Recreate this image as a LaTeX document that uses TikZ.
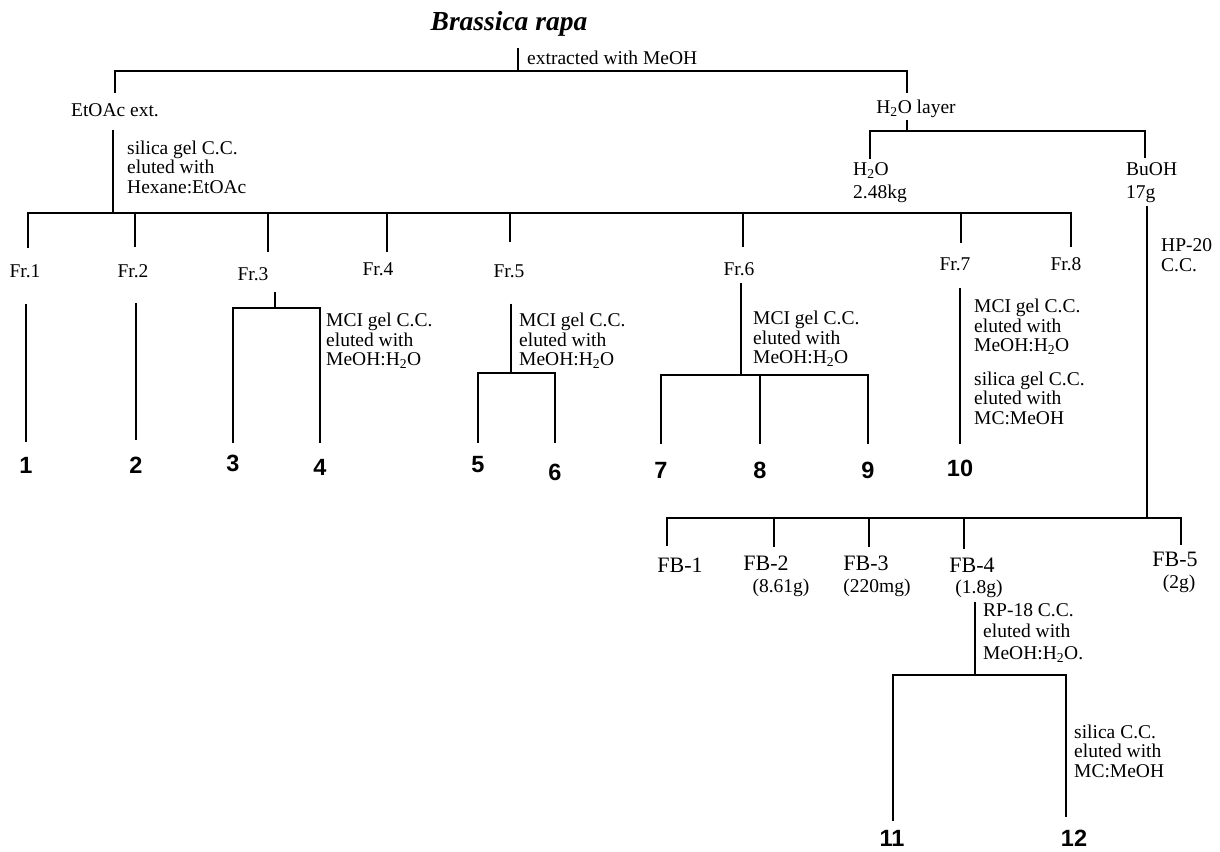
\documentclass[tikz,border=0pt]{standalone}
\usepackage{fontspec}
\setmainfont{Liberation Serif}
\newfontfamily\arialfam{Liberation Sans}
\usetikzlibrary{positioning}
\tikzset{
  lbl/.style = {inner sep=0pt, align=left, font=\fontsize{19.5}{19.5}\selectfont},
  fblbl/.style = {inner sep=0pt, font=\fontsize{22}{22}\selectfont},
  cmpd/.style = {inner sep=0pt, font=\arialfam\bfseries\fontsize{23.5}{23.5}\selectfont},
  bar/.style = {line width=2.3pt, line cap=rect},
  stem/.style = {line width=1.5pt}}

\begin{document}
\begin{tikzpicture}[x=1pt, y=-1pt]
\useasboundingbox (0,0) rectangle (1220,851);

\node[inner sep=0pt, font=\bfseries\itshape\fontsize{27.5}{27.5}\selectfont] (brassica) at (509,24) {Brassica rapa};
\coordinate (top) at (518,71);
\coordinate (hj) at (907,131);
\node[lbl, anchor=west] (meoh) at (527,58) {extracted with MeOH};
\node[lbl] (etoac) at (115,110) {EtOAc ext.};
\node[lbl] (h2olayer) at (916,109) {H\textsubscript{2}O layer};
\draw[stem, shorten <=11pt] (brassica.south -| top) -- (top);
\draw[bar, shorten <=11pt, shorten >=8pt] (etoac.north) |- (top) -| (h2olayer.north -| hj);

\coordinate (jfr) at (113,213);
\draw[stem, shorten <=13pt] (etoac.south -| jfr) -- (jfr);
\node[lbl, anchor=west] (sil1) at (127,167) {silica gel C.C.\\eluted with\\Hexane:EtOAc};

\foreach \i/\x/\lx/\ly/\g in {1/28/25/271/17, 2/135/133/271/18, 3/268/253/274/16,
  4/387/378/269/11, 5/510/509/271/23, 6/743/739/269/16, 7/961/955/264/15, 8/1071/1066/264/11} {
  \coordinate (c\i) at (\x,213);
  \node[lbl] (fr\i) at (\lx,\ly) {Fr.\i};
  \draw[bar, shorten >=\g pt] (c\i) -- (c\i |- fr\i.north);
}
\draw[bar] (c1) -- (c8);

\node[cmpd] (n1) at (26,465) {1};
\node[cmpd] (n2) at (136,465) {2};
\draw[stem, shorten <=26pt, shorten >=15pt] (n1.north |- fr1.south) -- (n1.north);
\draw[stem, shorten <=25pt, shorten >=17pt] (n2.north |- fr2.south) -- (n2.north);

\coordinate (f3j) at (275,308);
\node[cmpd] (n3) at (233,463) {3};
\node[cmpd] (n4) at (320,467) {4};
\draw[bar, shorten <=12pt] (fr3.south -| f3j) -- (f3j);
\draw[bar, shorten <=13pt, shorten >=17pt] (n3.north) |- (f3j) -| (n4.north);
\node[lbl, anchor=west] (mci3) at (326,341) {MCI gel C.C.\\eluted with\\MeOH:H\textsubscript{2}O};

\coordinate (f5j) at (511,373);
\node[cmpd] (n5) at (478,465) {5};
\node[cmpd] (n6) at (555,472) {6};
\draw[stem, shorten <=26pt] (fr5.south -| f5j) -- (f5j);
\draw[bar, shorten <=15pt, shorten >=22pt] (n5.north) |- (f5j) -| (n6.north);
\node[lbl, anchor=west] (mci5) at (519,341) {MCI gel C.C.\\eluted with\\MeOH:H\textsubscript{2}O};

\coordinate (f6j) at (741,375);
\node[cmpd] (n7) at (661,470) {7};
\node[cmpd] (n8) at (760,470) {8};
\node[cmpd] (n9) at (868,470) {9};
\draw[bar, shorten <=8pt] (fr6.south -| f6j) -- (f6j);
\draw[bar, shorten <=19pt, shorten >=19pt] (n7.north) |- (f6j) -| (n9.north);
\draw[bar, shorten >=19pt] (n8.north |- f6j) -- (n8.north);
\node[lbl, anchor=west] (mci6) at (753,339) {MCI gel C.C.\\eluted with\\MeOH:H\textsubscript{2}O};

\node[cmpd] (n10) at (960,468) {10};
\draw[bar, shorten <=18pt, shorten >=17pt] (n10.north |- fr7.south) -- (n10.north);
\node[lbl, anchor=west] (mci7) at (974,327) {MCI gel C.C.\\eluted with\\MeOH:H\textsubscript{2}O};
\node[lbl, anchor=west] (sil7) at (974,398) {silica gel C.C.\\eluted with\\MC:MeOH};

\node[lbl, anchor=north west, font=\fontsize{19.5}{23}\selectfont] (h2o) at (853,162) {H\textsubscript{2}O\\2.48kg};
\node[lbl, anchor=north west, font=\fontsize{19.5}{23}\selectfont] (buoh) at (1126,162) {BuOH\\17g};
\draw[bar, shorten <=3pt] (h2olayer.south -| hj) -- (hj);
\draw[bar, shorten <=4pt, shorten >=5pt] ([xshift=17pt]h2o.north west) |- (hj) -| ([xshift=19pt]buoh.north west);

\coordinate (fbj) at (1147,518);
\draw[bar, shorten <=5pt] ([xshift=21pt]buoh.south west) -- (fbj);
\node[lbl, anchor=west] (hp20) at (1161,255) {HP-20\\C.C.};

\foreach \i/\x/\lx/\ly/\g in {1/667/680/565/13, 2/774/766/563/10, 3/869/866/563/10,
  4/964/972/565/10, 5/1181/1175/559/8} {
  \coordinate (b\i) at (\x,518);
  \node[fblbl] (fb\i) at (\lx,\ly) {FB-\i};
  \draw[bar, shorten >=\g pt] (b\i) -- (b\i |- fb\i.north);
}
\draw[bar] (b1) -- (b5);
\node[lbl] (wt2) at (781,588) {(8.61g)};
\node[lbl] (wt3) at (877,588) {(220mg)};
\node[lbl] (wt4) at (979,589) {(1.8g)};
\node[lbl] (wt5) at (1179,584) {(2g)};

\coordinate (rpj) at (975,675);
\draw[bar, shorten <=5pt] (wt4.south -| rpj) -- (rpj);
\node[lbl, anchor=west, font=\fontsize{19.5}{21.5}\selectfont] (rp18) at (983,633) {RP-18 C.C.\\eluted with\\MeOH:H\textsubscript{2}O.};
\coordinate (r11) at (893,675);
\coordinate (r12) at (1066,675);
\node[cmpd] (n11) at (892,838) {11};
\node[cmpd] (n12) at (1074,838) {12};
\draw[bar] (r11) -- (r12);
\draw[bar, shorten >=10pt] (r11) -- (r11 |- n11.north);
\draw[stem, shorten >=13pt] (r12) -- (r12 |- n12.north);
\node[lbl, anchor=west] (sil12) at (1074,751) {silica C.C.\\eluted with\\MC:MeOH};
\end{tikzpicture}
\end{document}
